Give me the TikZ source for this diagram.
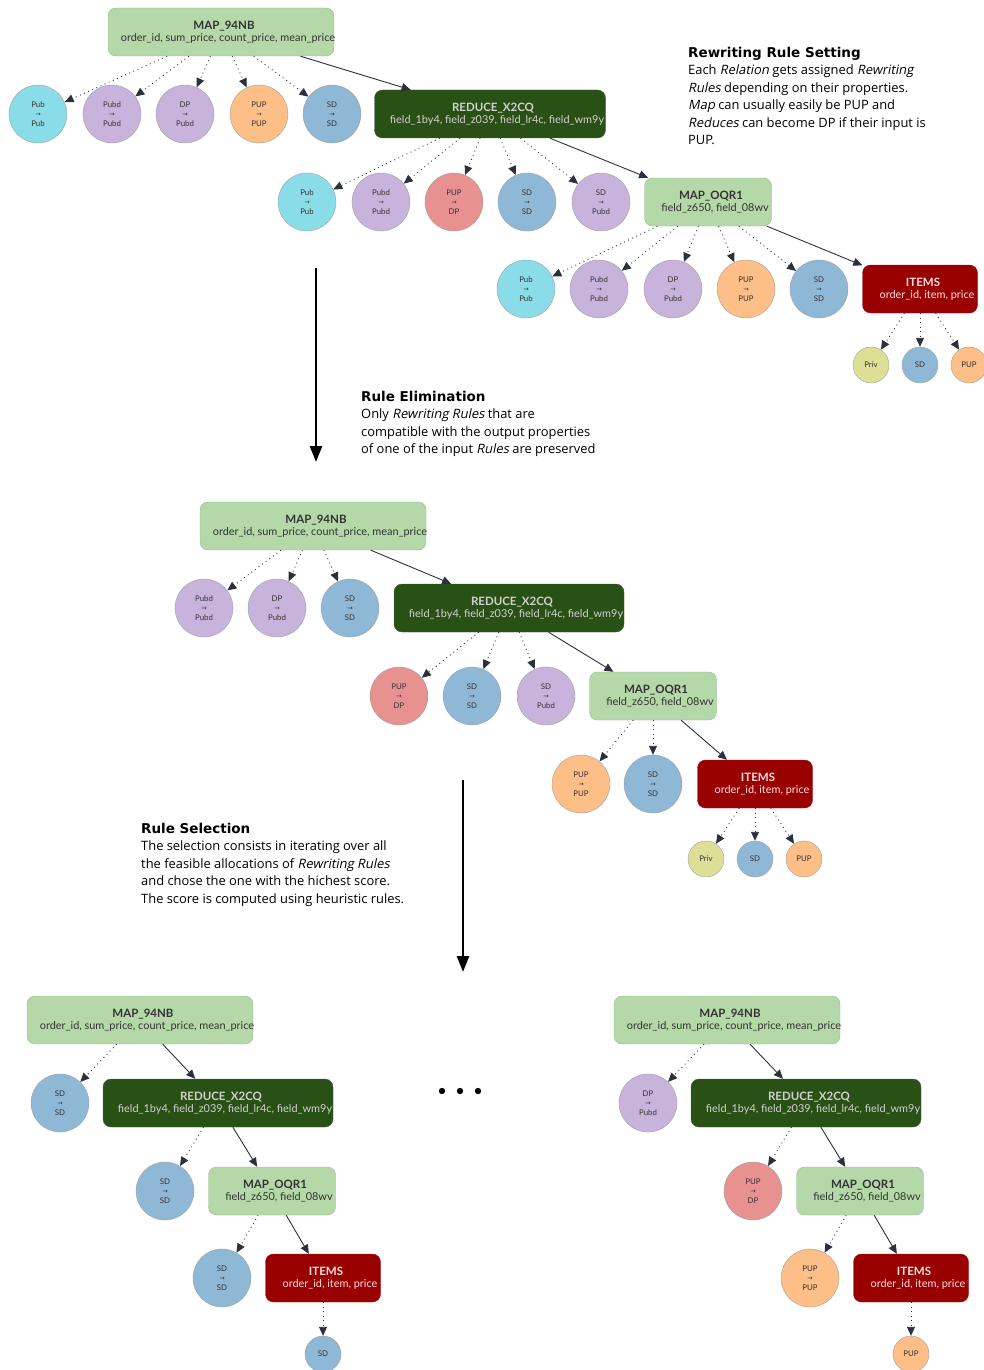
\documentclass[tikz,border=0pt]{standalone}
\usepackage{fontspec}
\setmainfont{Lato}
\newfontfamily\notefont{Open Sans}[ItalicFont=Open Sans, ItalicFeatures={FakeSlant=0.2}]
\newfontfamily\headfont{DejaVu Sans}
\newfontfamily\symfont{DejaVu Sans}
\usetikzlibrary{arrows.meta}

\definecolor{mapgreen}{HTML}{B5D8A8}
\definecolor{mapline}{HTML}{96B98B}
\definecolor{reducegreen}{HTML}{2A5115}
\definecolor{itemred}{HTML}{990000}
\definecolor{cPub}{HTML}{8ADDE8}
\definecolor{cPubd}{HTML}{C8B3DC}
\definecolor{cPUP}{HTML}{FDBF87}
\definecolor{cSD}{HTML}{8FB8D7}
\definecolor{cDP}{HTML}{E89191}
\definecolor{cPriv}{HTML}{DCDF95}
\definecolor{edgec}{HTML}{2B313C}

% rewriting rule: input -> output
\newcommand{\rw}[2]{#1\\{\symfont\fontsize{6.5}{9.5}\selectfont →}\\#2}

\tikzset{
  relbox/.style={rectangle, rounded corners=8pt, minimum height=48pt, align=center, inner sep=2pt, font=\fontsize{10.9}{12}\selectfont},
  mapbox/.style={relbox, fill=mapgreen, draw=mapline, text=black!80, minimum width=#1},
  reducebox/.style={relbox, fill=reducegreen, draw=reducegreen!70!gray, text=white!82!black, minimum width=#1},
  itembox/.style={relbox, fill=itemred, draw=itemred!80!gray, text=red!12!white, minimum width=115pt},
  rulenode/.style={circle, draw=gray!75, fill=#1, minimum size=58pt, inner sep=0pt, align=center, font=\fontsize{7.8}{9.5}\selectfont, text=black!80},
  propnode/.style={circle, draw=gray!75, fill=#1, minimum size=36pt, inner sep=0pt, font=\fontsize{7.8}{9}\selectfont, text=black!80},
  ruleedge/.style={draw=edgec, line width=0.9pt, dash pattern=on 0.9pt off 3.6pt, -{Triangle[length=9pt,width=8pt,fill=edgec]}},
  flowedge/.style={draw=edgec, line width=0.9pt, -{Triangle[length=9pt,width=8pt]}},
  stepedge/.style={line width=2.5pt, -{Triangle[length=16pt,width=12pt]}},
  note/.style={anchor=north west, align=left, inner sep=0pt, font=\notefont\fontsize{12.9}{17.5}\selectfont},
}
\newcommand{\notehead}[1]{{\headfont\bfseries\fontsize{13.5}{17.5}\selectfont #1}}
\newcommand{\reltitle}[1]{\hspace*{3pt}{\fontsize{11.5}{12}\selectfont\bfseries #1}\hspace*{-3pt}}
\newcommand{\relsub}[1]{\hspace*{7pt}#1\hspace*{-7pt}}

\begin{document}
\begin{tikzpicture}[x=1pt, y=-1pt]
\useasboundingbox (0,0) rectangle (984,1370);

% rewriting rule setting
\node [mapbox=226pt] (ta) at (221,32) {\reltitle{MAP\_94NB}\\\relsub{order\_id, sum\_price, count\_price, mean\_price}};
\node [rulenode=cPub] (ta1) at (38,114) {\rw{Pub}{Pub}};
\node [rulenode=cPubd] (ta2) at (112,114) {\rw{Pubd}{Pubd}};
\node [rulenode=cPubd] (ta3) at (185,114) {\rw{DP}{Pubd}};
\node [rulenode=cPUP] (ta4) at (259,114) {\rw{PUP}{PUP}};
\node [rulenode=cSD] (ta5) at (332,114) {\rw{SD}{SD}};
\node [reducebox=231pt] (tb) at (490,114) {\reltitle{REDUCE\_X2CQ}\\\relsub{field\_1by4, field\_z039, field\_lr4c, field\_wm9y}};
\node [rulenode=cPub] (tb1) at (307,202) {\rw{Pub}{Pub}};
\node [rulenode=cPubd] (tb2) at (381,202) {\rw{Pubd}{Pubd}};
\node [rulenode=cDP] (tb3) at (454,202) {\rw{PUP}{DP}};
\node [rulenode=cSD] (tb4) at (527,202) {\rw{SD}{SD}};
\node [rulenode=cPubd] (tb5) at (601,202) {\rw{SD}{Pubd}};
\node [mapbox=127pt] (tc) at (708,202) {\reltitle{MAP\_OQR1}\\\relsub{field\_z650, field\_08wv}};
\node [rulenode=cPub] (tc1) at (526,289) {\rw{Pub}{Pub}};
\node [rulenode=cPubd] (tc2) at (599,289) {\rw{Pubd}{Pubd}};
\node [rulenode=cPubd] (tc3) at (673,289) {\rw{DP}{Pubd}};
\node [rulenode=cPUP] (tc4) at (746,289) {\rw{PUP}{PUP}};
\node [rulenode=cSD] (tc5) at (819,289) {\rw{SD}{SD}};
\node [itembox] (td) at (920,289) {\reltitle{ITEMS}\\\relsub{order\_id, item, price}};
\node [propnode=cPriv] (td1) at (871,365) {Priv};
\node [propnode=cSD] (td2) at (920,365) {SD};
\node [propnode=cPUP] (td3) at (969,365) {PUP};

\draw [ruleedge] (ta) -- (ta1);
\draw [ruleedge] (ta) -- (ta2);
\draw [ruleedge] (ta) -- (ta3);
\draw [ruleedge] (ta) -- (ta4);
\draw [ruleedge] (ta) -- (ta5);
\draw [flowedge] (ta) -- (tb);
\draw [ruleedge] (tb) -- (tb1);
\draw [ruleedge] (tb) -- (tb2);
\draw [ruleedge] (tb) -- (tb3);
\draw [ruleedge] (tb) -- (tb4);
\draw [ruleedge] (tb) -- (tb5);
\draw [flowedge] (tb) -- (tc);
\draw [ruleedge] (tc) -- (tc1);
\draw [ruleedge] (tc) -- (tc2);
\draw [ruleedge] (tc) -- (tc3);
\draw [ruleedge] (tc) -- (tc4);
\draw [ruleedge] (tc) -- (tc5);
\draw [flowedge] (tc) -- (td);
\draw [ruleedge] (td) -- (td1);
\draw [ruleedge] (td) -- (td2);
\draw [ruleedge] (td) -- (td3);

\node [note] (setting) at (688,47) {\notehead{Rewriting Rule Setting}\\
  Each \textit{Relation} gets assigned \textit{Rewriting}\\
  \textit{Rules} depending on their properties.\\
  \textit{Map} can usually easily be PUP and\\
  \textit{Reduces} can become DP if their input is\\
  PUP.};

\coordinate (s1) at (316,268);
\coordinate (e1) at (316,462);
\draw [stepedge] (s1) -- (e1);

\node [note] (elimination) at (361,391) {\notehead{Rule Elimination}\\
  Only \textit{Rewriting Rules} that are\\
  compatible with the output properties\\
  of one of the input \textit{Rules} are preserved};

% rule elimination
\node [mapbox=226pt] (ma) at (313,526) {\reltitle{MAP\_94NB}\\\relsub{order\_id, sum\_price, count\_price, mean\_price}};
\node [rulenode=cPubd] (ma1) at (204,608) {\rw{Pubd}{Pubd}};
\node [rulenode=cPubd] (ma2) at (277,608) {\rw{DP}{Pubd}};
\node [rulenode=cSD] (ma3) at (350,608) {\rw{SD}{SD}};
\node [reducebox=230pt] (mb) at (509,608) {\reltitle{REDUCE\_X2CQ}\\\relsub{field\_1by4, field\_z039, field\_lr4c, field\_wm9y}};
\node [rulenode=cDP] (mb1) at (399,696) {\rw{PUP}{DP}};
\node [rulenode=cSD] (mb2) at (472,696) {\rw{SD}{SD}};
\node [rulenode=cPubd] (mb3) at (546,696) {\rw{SD}{Pubd}};
\node [mapbox=127pt] (mc) at (653,696) {\reltitle{MAP\_OQR1}\\\relsub{field\_z650, field\_08wv}};
\node [rulenode=cPUP] (mc1) at (581,784) {\rw{PUP}{PUP}};
\node [rulenode=cSD] (mc2) at (653,784) {\rw{SD}{SD}};
\node [itembox] (md) at (755,784) {\reltitle{ITEMS}\\\relsub{order\_id, item, price}};
\node [propnode=cPriv] (md1) at (706,859) {Priv};
\node [propnode=cSD] (md2) at (755,859) {SD};
\node [propnode=cPUP] (md3) at (804,859) {PUP};

\draw [ruleedge] (ma) -- (ma1);
\draw [ruleedge] (ma) -- (ma2);
\draw [ruleedge] (ma) -- (ma3);
\draw [flowedge] (ma) -- (mb);
\draw [ruleedge] (mb) -- (mb1);
\draw [ruleedge] (mb) -- (mb2);
\draw [ruleedge] (mb) -- (mb3);
\draw [flowedge] (mb) -- (mc);
\draw [ruleedge] (mc) -- (mc1);
\draw [ruleedge] (mc) -- (mc2);
\draw [flowedge] (mc) -- (md);
\draw [ruleedge] (md) -- (md1);
\draw [ruleedge] (md) -- (md2);
\draw [ruleedge] (md) -- (md3);

\coordinate (s2) at (463,780);
\coordinate (e2) at (463,972);
\draw [stepedge] (s2) -- (e2);

\node [note] (selection) at (141,823) {\notehead{Rule Selection}\\
  The selection consists in iterating over all\\
  the feasible allocations of \textit{Rewriting Rules}\\
  and chose the one with the hichest score.\\
  The score is computed using heuristic rules.};

% rule selection, left allocation
\node [mapbox=226pt] (la) at (140,1020) {\reltitle{MAP\_94NB}\\\relsub{order\_id, sum\_price, count\_price, mean\_price}};
\node [rulenode=cSD] (la1) at (60,1103) {\rw{SD}{SD}};
\node [reducebox=230pt] (lb) at (218,1103) {\reltitle{REDUCE\_X2CQ}\\\relsub{field\_1by4, field\_z039, field\_lr4c, field\_wm9y}};
\node [rulenode=cSD] (lb1) at (165,1191) {\rw{SD}{SD}};
\node [mapbox=127pt] (lc) at (272,1191) {\reltitle{MAP\_OQR1}\\\relsub{field\_z650, field\_08wv}};
\node [rulenode=cSD] (lc1) at (222,1278) {\rw{SD}{SD}};
\node [itembox] (ld) at (323,1278) {\reltitle{ITEMS}\\\relsub{order\_id, item, price}};
\node [propnode=cSD] (ld1) at (323,1354) {SD};

\draw [ruleedge] (la) -- (la1);
\draw [flowedge] (la) -- (lb);
\draw [ruleedge] (lb) -- (lb1);
\draw [flowedge] (lb) -- (lc);
\draw [ruleedge] (lc) -- (lc1);
\draw [flowedge] (lc) -- (ld);
\draw [ruleedge] (ld) -- (ld1);

\fill (442,1091) circle (3.2pt);
\fill (460,1091) circle (3.2pt);
\fill (478,1091) circle (3.2pt);

% rule selection, right allocation
\node [mapbox=226pt] (ra) at (727,1020) {\reltitle{MAP\_94NB}\\\relsub{order\_id, sum\_price, count\_price, mean\_price}};
\node [rulenode=cPubd] (ra1) at (648,1103) {\rw{DP}{Pubd}};
\node [reducebox=230pt] (rb) at (806,1103) {\reltitle{REDUCE\_X2CQ}\\\relsub{field\_1by4, field\_z039, field\_lr4c, field\_wm9y}};
\node [rulenode=cDP] (rb1) at (753,1191) {\rw{PUP}{DP}};
\node [mapbox=127pt] (rc) at (860,1191) {\reltitle{MAP\_OQR1}\\\relsub{field\_z650, field\_08wv}};
\node [rulenode=cPUP] (rc1) at (810,1278) {\rw{PUP}{PUP}};
\node [itembox] (rd) at (911,1278) {\reltitle{ITEMS}\\\relsub{order\_id, item, price}};
\node [propnode=cPUP] (rd1) at (911,1354) {PUP};

\draw [ruleedge] (ra) -- (ra1);
\draw [flowedge] (ra) -- (rb);
\draw [ruleedge] (rb) -- (rb1);
\draw [flowedge] (rb) -- (rc);
\draw [ruleedge] (rc) -- (rc1);
\draw [flowedge] (rc) -- (rd);
\draw [ruleedge] (rd) -- (rd1);

\end{tikzpicture}
\end{document}
